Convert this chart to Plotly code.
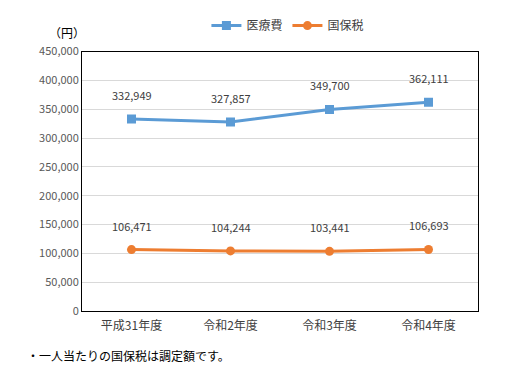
import plotly.graph_objects as go

categories = ["平成31年度", "令和2年度", "令和3年度", "令和4年度"]
iryouhi = [332949, 327857, 349700, 362111]
kokuhozei = [106471, 104244, 103441, 106693]
series_names = ["医療費", "国保税"]

FONT = "Noto Sans CJK JP"
blue = "#5B9BD5"
orange = "#ED7D31"

fig = go.Figure()
fig.add_trace(go.Scatter(x=categories, y=iryouhi, name=series_names[0], mode="lines+markers",
                         line=dict(color=blue, width=3), marker=dict(symbol="square", size=9, color=blue)))
fig.add_trace(go.Scatter(x=categories, y=kokuhozei, name=series_names[1], mode="lines+markers",
                         line=dict(color=orange, width=3), marker=dict(symbol="circle", size=9, color=orange)))

for vals in (iryouhi, kokuhozei):
    for c, v in zip(categories, vals):
        fig.add_annotation(x=c, y=v, text=f"{v:,}", showarrow=False, yshift=24,
                           font=dict(family=FONT, size=11, color="#404040"))

fig.add_annotation(xref="paper", yref="paper", x=-0.088, y=0.922, xanchor="left", yanchor="middle",
                   text="（円）", showarrow=False, font=dict(family=FONT, size=12, color="#000000"))
fig.add_annotation(xref="paper", yref="paper", x=-0.145, y=-0.146, xanchor="left", yanchor="middle",
                   text="・一人当たりの国保税は調定額です。", showarrow=False,
                   font=dict(family=FONT, size=12, color="#000000"))

fig.update_layout(
    width=532, height=368,
    margin=dict(l=82, r=54, t=0, b=57, pad=0),
    paper_bgcolor="white", plot_bgcolor="white",
    font=dict(family=FONT, size=11, color="#595959"),
    showlegend=True,
    legend=dict(orientation="h", x=0.52, xanchor="center",
                y=0.945, yanchor="middle",
                font=dict(family=FONT, size=12, color="#404040"), tracegroupgap=0),
    xaxis=dict(range=[-0.5, 3.5], showgrid=False, showline=True, linecolor="black", linewidth=1, mirror=True,
               ticks="", ticklabelstandoff=4, tickfont=dict(family=FONT, size=12, color="#404040")),
    yaxis=dict(domain=[0, 0.859], range=[0, 450000], dtick=50000, tickformat=",", showgrid=True,
               gridcolor="#D9D9D9", showline=True, linecolor="black", linewidth=1, mirror=True, ticks="",
               zeroline=False, tickfont=dict(family=FONT, size=11, color="#595959")),
)

fig.write_html("out.html", config={"displayModeBar": False},
               post_script="document.body.style.margin='0';")
